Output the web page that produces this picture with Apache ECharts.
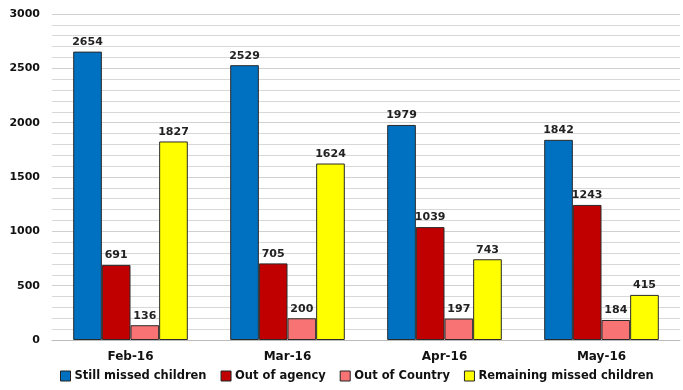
<!DOCTYPE html>
<html><head><meta charset="utf-8">
<script src="https://cdn.jsdelivr.net/npm/echarts@6/dist/echarts.min.js"></script>
<style>html,body{margin:0;padding:0;background:#fff}#c{width:683px;height:390px}</style>
</head><body><div id="c"></div>
<script>
const categories = ['Feb-16','Mar-16','Apr-16','May-16'];
const seriesNames = ['Still missed children','Out of agency','Out of Country','Remaining missed children'];
const stillMissed = [2654, 2529, 1979, 1842];
const outOfAgency = [691, 705, 1039, 1243];
const outOfCountry = [136, 200, 197, 184];
const remaining = [1827, 1624, 743, 415];
const colors = ['#0070C0','#C00000','#F87474','#FFFF00'];
const values = [stillMissed, outOfAgency, outOfCountry, remaining];
const font = '"DejaVu Sans", Verdana, sans-serif';
const chart = echarts.init(document.getElementById('c'));
chart.setOption({
  animation:false,
  grid:{left:52,right:3,top:14,bottom:50},
  legend:{bottom:3,left:55,itemWidth:10,itemHeight:10,itemGap:14,icon:'path://M0,0L10,0L10,10L0,10Z',
    textStyle:{fontFamily:font,fontWeight:'bold',fontSize:11.5,color:'#111',padding:[0,0,0,-1]},
    data:seriesNames.map((n,i)=>({name:n,itemStyle:{color:colors[i],borderColor:'#222',borderWidth:1}}))},
  xAxis:{type:'category',data:categories,
    axisLine:{lineStyle:{color:'#bbb'}},axisTick:{show:false},
    axisLabel:{fontFamily:font,fontWeight:'bold',fontSize:12,color:'#111',margin:11}},
  yAxis:{type:'value',min:0,max:3000,interval:500,
    axisLine:{show:false},axisTick:{show:false},
    axisLabel:{fontFamily:font,fontWeight:'bold',fontSize:11,color:'#111',margin:12,formatter:v=>String(v)},
    splitLine:{lineStyle:{color:'#d0d0d0',width:1}},
    minorTick:{show:false,splitNumber:5},
    minorSplitLine:{show:true,lineStyle:{color:'#d8d8d8',width:1}}},
  series:values.map((v,i)=>({
    name:seriesNames[i],type:'bar',data:v,barGap:'0%',barCategoryGap:'27%',
    itemStyle:{color:colors[i],borderColor:'#2a2a2a',borderWidth:1,borderRadius:0},
    label:{show:true,position:'top',distance:4,fontFamily:font,fontWeight:'bold',fontSize:11,color:'#222'}
  }))
});
</script></body></html>
